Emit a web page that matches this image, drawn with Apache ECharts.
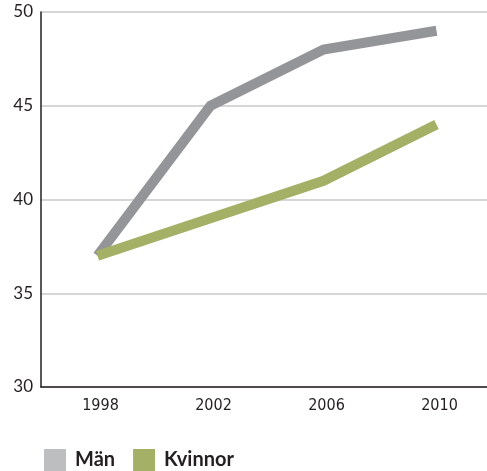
<!DOCTYPE html>
<html>
<head>
<meta charset="utf-8">
<script src="https://cdn.jsdelivr.net/npm/echarts@6/dist/echarts.min.js"></script>
<style>
  html, body { margin: 0; padding: 0; background: #fff; }
  #chart { width: 487px; height: 471px; }
</style>
</head>
<body>
<div id="chart"></div>
<script>
const years = ['1998', '2002', '2006', '2010']
const man = [37, 45, 48, 49]
const kvinnor = [37, 39, 41, 44]

const chart = echarts.init(document.getElementById('chart'))

const option = {
  animation: false,
  grid: {
    left: 41,
    width: 452,
    top: 12,
    bottom: 84,
    outerBoundsMode: 'none'
  },
  legend: {
    left: 39,
    top: 444,
    icon: 'rect',
    itemWidth: 22,
    itemHeight: 22,
    itemGap: 18,
    textStyle: {
      fontFamily: 'Lato',
      fontWeight: 'bold',
      fontSize: 20,
      color: '#231f20',
      padding: [2, 0, 0, 4]
    },
    data: [
      { name: 'Män', itemStyle: { color: '#bcbec0' } },
      { name: 'Kvinnor', itemStyle: { color: '#a3b066' } }
    ]
  },
  xAxis: {
    type: 'category',
    data: years,
    boundaryGap: true,
    axisLine: { lineStyle: { color: '#231f20', width: 1.5 } },
    axisTick: { inside: true, length: 9, lineStyle: { color: '#231f20' } },
    axisLabel: {
      margin: 11,
      fontFamily: '"DejaVu Sans Condensed", "Open Sans", sans-serif',
      fontSize: 16,
      color: '#231f20',
      padding: [0, 0, 0, 6]
    }
  },
  yAxis: {
    type: 'value',
    min: 30,
    max: 50,
    interval: 5,
    axisLine: { show: true, lineStyle: { color: '#231f20', width: 1.5 } },
    axisTick: { show: false },
    axisLabel: {
      margin: 8,
      fontFamily: 'Lato',
      fontSize: 17,
      color: '#231f20',
      padding: [4, 0, 0, 0]
    },
    splitLine: { lineStyle: { color: '#c8c8c8', width: 1.5 } }
  },
  series: [
    {
      name: 'Män',
      type: 'line',
      data: man,
      symbol: 'none',
      lineStyle: { color: '#939598', width: 10, cap: 'butt', join: 'miter' },
      itemStyle: { color: '#939598' }
    },
    {
      name: 'Kvinnor',
      type: 'line',
      data: kvinnor,
      symbol: 'none',
      lineStyle: { color: '#a3b066', width: 10, cap: 'butt', join: 'miter' },
      itemStyle: { color: '#a3b066' }
    }
  ]
}

chart.setOption(option)
</script>
</body>
</html>
